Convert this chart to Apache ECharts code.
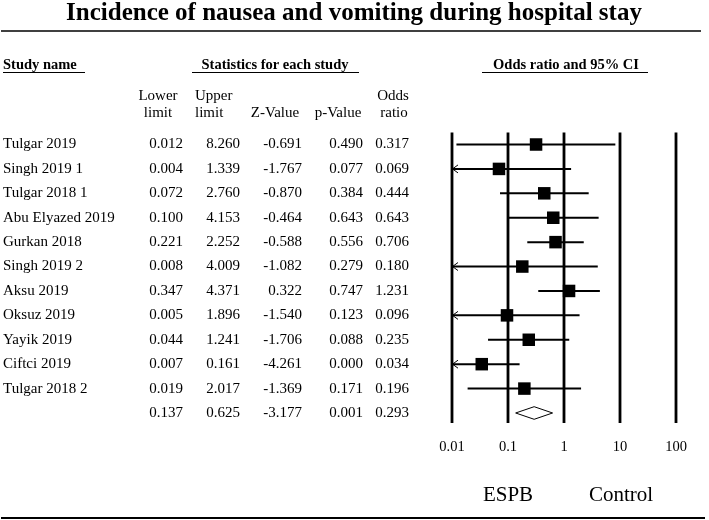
<!DOCTYPE html>
<html><head><meta charset="utf-8">
<script src="https://cdn.jsdelivr.net/npm/echarts@6/dist/echarts.min.js"></script>
<style>html,body{margin:0;padding:0;background:#fff}#c{width:709px;height:520px}</style>
</head><body><div id="c"></div>
<script>
// ---- data ----
const studies    = ['Tulgar 2019','Singh 2019 1','Tulgar 2018 1','Abu Elyazed 2019','Gurkan 2018','Singh 2019 2','Aksu 2019','Oksuz 2019','Yayik 2019','Ciftci 2019','Tulgar 2018 2',''];
const lowerLimit = [0.012,0.004,0.072,0.100,0.221,0.008,0.347,0.005,0.044,0.007,0.019,0.137];
const upperLimit = [8.260,1.339,2.760,4.153,2.252,4.009,4.371,1.896,1.241,0.161,2.017,0.625];
const zValue     = [-0.691,-1.767,-0.870,-0.464,-0.588,-1.082,0.322,-1.540,-1.706,-4.261,-1.369,-3.177];
const pValue     = [0.490,0.077,0.384,0.643,0.556,0.279,0.747,0.123,0.088,0.000,0.171,0.001];
const oddsRatio  = [0.317,0.069,0.444,0.643,0.706,0.180,1.231,0.096,0.235,0.034,0.196,0.293];
const tickValues = [0.01,0.1,1,10,100];
const tickLabels = ['0.01','0.1','1','10','100'];
const summaryIndex = 11;

// ---- layout ----
const FONT = "'Liberation Serif','Times New Roman',serif";
const GL = 452, GRIGHT = 709 - 676;
const fmt = v => v.toFixed(3);
const rowIdx = studies.map((_, i) => i);
const AXMIN = tickValues[0], AXMAX = tickValues[tickValues.length - 1];

function colAxis(data, anchorX, align) {
  return {
    type: 'category', data: data, inverse: true, position: 'left',
    offset: GL - anchorX,
    axisLine: {show: false}, axisTick: {show: false}, splitLine: {show: false},
    axisLabel: {interval: 0, margin: 0, align: align, color: '#000', fontFamily: FONT, fontSize: 15}
  };
}
function txt(s, x, y, size, align, bold) {
  return {type: 'text', x: x, y: y, style: {text: s, fontFamily: FONT, fontWeight: bold ? 'bold' : 'normal', fontSize: size, fill: '#000', align: align, verticalAlign: 'middle'}};
}
function hline(x1, x2, y, w) {
  return {type: 'line', shape: {x1: x1, y1: y, x2: x2, y2: y}, style: {stroke: '#000', lineWidth: w}};
}

const chart = echarts.init(document.getElementById('c'), null, {renderer: 'canvas'});

const option = {
  backgroundColor: '#fff',
  animation: false,
  grid: {left: GL, right: GRIGHT, top: 132.3, bottom: 94.8},
  xAxis: {
    type: 'log', logBase: 10, min: AXMIN, max: AXMAX,
    axisLine: {show: false}, axisTick: {show: false}, splitLine: {show: false},
    axisLabel: {
      color: '#000', fontFamily: FONT, fontSize: 14.5, margin: 14,
      formatter: v => tickLabels[Math.round(Math.log10(v)) - Math.round(Math.log10(AXMIN))]
    }
  },
  yAxis: [
    {type: 'category', data: rowIdx.map(String), inverse: true, show: false},
    colAxis(studies, 3, 'left'),
    colAxis(lowerLimit.map(fmt), 183, 'right'),
    colAxis(upperLimit.map(fmt), 240, 'right'),
    colAxis(zValue.map(fmt), 302, 'right'),
    colAxis(pValue.map(fmt), 363, 'right'),
    colAxis(oddsRatio.map(fmt), 409, 'right')
  ],
  series: [
    { // vertical reference lines at decades
      type: 'custom', z: 1, silent: true,
      data: tickValues.map(v => [v]),
      encode: {x: 0},
      renderItem: function (params, api) {
        const v = api.value(0);
        const band = api.size([0, 1])[1];
        const p0 = api.coord([v, 0]);
        const p1 = api.coord([v, summaryIndex]);
        return {type: 'line', shape: {x1: p0[0], y1: p0[1] - 0.49 * band, x2: p1[0], y2: p1[1] + 0.41 * band},
                style: {stroke: '#000', lineWidth: 2.8}};
      }
    },
    { // confidence intervals
      type: 'custom', z: 2, silent: true, clip: false,
      data: rowIdx.filter(i => i !== summaryIndex).map(i => [lowerLimit[i], upperLimit[i], i]),
      encode: {x: [0, 1], y: 2},
      renderItem: function (params, api) {
        const lo = api.value(0), hi = api.value(1), r = api.value(2);
        const a = api.coord([Math.max(lo, AXMIN), r]);
        const b = api.coord([Math.min(hi, AXMAX), r]);
        const children = [{type: 'line', shape: {x1: a[0], y1: a[1], x2: b[0], y2: b[1]}, style: {stroke: '#000', lineWidth: 2}}];
        if (lo < AXMIN) children.push({type: 'polyline', shape: {points: [[a[0] + 6, a[1] - 4], [a[0] + 0.5, a[1]], [a[0] + 6, a[1] + 4]]}, style: {stroke: '#000', fill: null, lineWidth: 1}});
        if (hi > AXMAX) children.push({type: 'polyline', shape: {points: [[b[0] - 6, b[1] - 4], [b[0] - 0.5, b[1]], [b[0] - 6, b[1] + 4]]}, style: {stroke: '#000', fill: null, lineWidth: 1}});
        return {type: 'group', children: children};
      }
    },
    { // point estimates
      type: 'scatter', z: 3, silent: true,
      symbol: 'rect', symbolSize: 12.5,
      itemStyle: {color: '#000', opacity: 1},
      data: rowIdx.filter(i => i !== summaryIndex).map(i => [oddsRatio[i], i])
    },
    { // summary diamond
      type: 'custom', z: 3, silent: true,
      data: [[lowerLimit[summaryIndex], oddsRatio[summaryIndex], upperLimit[summaryIndex], summaryIndex]],
      encode: {x: [0, 1, 2], y: 3},
      renderItem: function (params, api) {
        const r = api.value(3);
        const l = api.coord([api.value(0), r]);
        const m = api.coord([api.value(1), r]);
        const h = api.coord([api.value(2), r]);
        const hh = 6.3;
        return {type: 'polygon', shape: {points: [[l[0], l[1]], [m[0], m[1] - hh], [h[0], h[1]], [m[0], m[1] + hh]]},
                style: {fill: '#fff', stroke: '#000', lineWidth: 1}};
      }
    }
  ],
  graphic: [
    txt('Incidence of nausea and vomiting during hospital stay', 354, 14, 25, 'center', true),
    hline(1, 701, 31, 1.6),
    txt('Study name', 3, 65, 14.5, 'left', true),
    hline(3, 85, 72.5, 1.2),
    txt('Statistics for each study', 275, 65, 14.5, 'center', true),
    hline(192, 359, 72.5, 1.2),
    txt('Odds ratio and 95% CI', 566, 65, 14.5, 'center', true),
    hline(482, 648, 72.5, 1.2),
    txt('Lower', 158, 96, 15, 'center'),
    txt('limit', 158, 113.5, 15, 'center'),
    txt('Upper', 195, 96, 15, 'left'),
    txt('limit', 195, 113.5, 15, 'left'),
    txt('Z-Value', 275, 113.5, 15, 'center'),
    txt('p-Value', 338, 113.5, 15, 'center'),
    txt('Odds', 393, 96, 15, 'center'),
    txt('ratio', 394, 113.5, 15, 'center'),
    txt('ESPB', 508, 495, 21, 'center'),
    txt('Control', 621, 495, 21, 'center'),
    hline(1, 705, 518, 2)
  ]
};
chart.setOption(option);
</script>
</body></html>
